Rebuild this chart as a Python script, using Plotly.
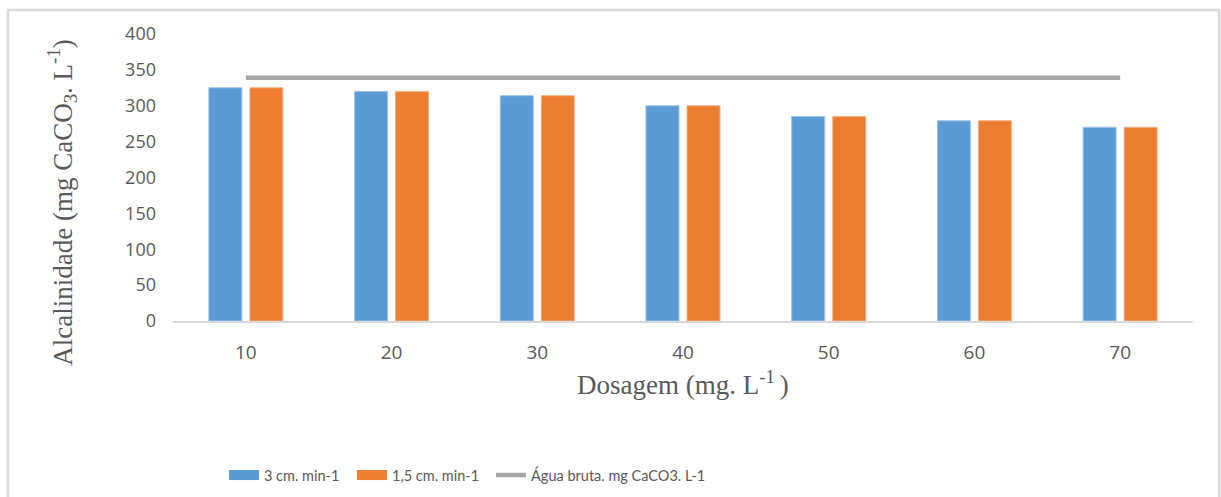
import plotly.graph_objects as go

# Dosage categories (mg/L) and alkalinity results (mg CaCO3/L)
dosagem = ["10", "20", "30", "40", "50", "60", "70"]
vazao_3 = [325, 320, 314, 300, 285, 279, 270]
vazao_1_5 = [325, 320, 314, 300, 285, 279, 270]
agua_bruta = [339, 339, 339, 339, 339, 339, 339]

nome_3 = "3 cm. min-1"
nome_1_5 = "1,5 cm. min-1"
nome_agua = "Água bruta. mg CaCO3. L-1"

AZUL = "#5b9bd5"
LARANJA = "#ed7d31"
CINZA = "#a5a5a5"
TEXTO = "#595959"

fig = go.Figure()

fig.add_trace(go.Bar(x=dosagem, y=vazao_3, name=nome_3, marker_color=AZUL,
                     marker_line=dict(color="#9cc3e6", width=1), showlegend=False))
fig.add_trace(go.Bar(x=dosagem, y=vazao_1_5, name=nome_1_5, marker_color=LARANJA,
                     marker_line=dict(color="#f4b183", width=1), showlegend=False))

# Legend swatches drawn as wide line keys, one legend box per entry
fig.add_trace(go.Scatter(x=[None], y=[None], mode="lines", name=nome_3,
                         line=dict(color=AZUL, width=10), legend="legend"))
fig.add_trace(go.Scatter(x=[None], y=[None], mode="lines", name=nome_1_5,
                         line=dict(color=LARANJA, width=10), legend="legend2"))
fig.add_trace(go.Scatter(x=dosagem, y=agua_bruta, mode="lines", name=nome_agua,
                         line=dict(color=CINZA, width=4.5), legend="legend3"))

leg_font = dict(family="Lato", size=14.5, color=TEXTO)
leg_common = dict(orientation="h", xanchor="left", y=-0.537, yanchor="middle",
                  font=leg_font, bgcolor="rgba(0,0,0,0)")

fig.update_layout(
    width=1221, height=497,
    margin=dict(l=173, r=28, t=34, b=176, autoexpand=False),
    paper_bgcolor="white", plot_bgcolor="white",
    barmode="group", bargap=0.437, bargroupgap=0.195,
    font=dict(family="Open Sans", color=TEXTO),
    showlegend=True,
    legend=dict(x=0.05, **leg_common),
    legend2=dict(x=0.1755, **leg_common),
    legend3=dict(x=0.3118, **leg_common),
    xaxis=dict(type="category", showgrid=False, showline=True, linecolor="#d9d9d9",
               linewidth=1.5, zeroline=False, ticks="", automargin=False,
               tickfont=dict(family="Open Sans", size=19, color=TEXTO),
               ticklabelstandoff=13),
    yaxis=dict(range=[0, 400], dtick=50, showgrid=False, zeroline=False, showline=False,
               ticks="", automargin=False,
               tickfont=dict(family="Open Sans", size=18, color=TEXTO),
               ticklabelstandoff=16),
    annotations=[
        dict(text="Alcalinidade (mg CaCO<sub>3</sub>. L<sup>-1</sup>)", textangle=-90,
             xref="paper", yref="paper", x=-0.1088, y=0.412,
             xanchor="center", yanchor="middle", showarrow=False,
             font=dict(family="Liberation Serif", size=27, color=TEXTO)),
        dict(text="Dosagem (mg. L<sup>-1 </sup>)",
             xref="paper", yref="paper", x=0.5, y=-0.216,
             xanchor="center", yanchor="middle", showarrow=False,
             font=dict(family="Liberation Serif", size=27, color=TEXTO)),
    ],
    shapes=[
        dict(type="rect", xref="paper", yref="paper", x0=-0.1618, x1=1.0255,
             y0=-0.75, y1=1.0836, line=dict(color="#d9d9d9", width=2.5),
             fillcolor="rgba(0,0,0,0)", layer="below"),
    ],
)

fig.write_html("out.html")
